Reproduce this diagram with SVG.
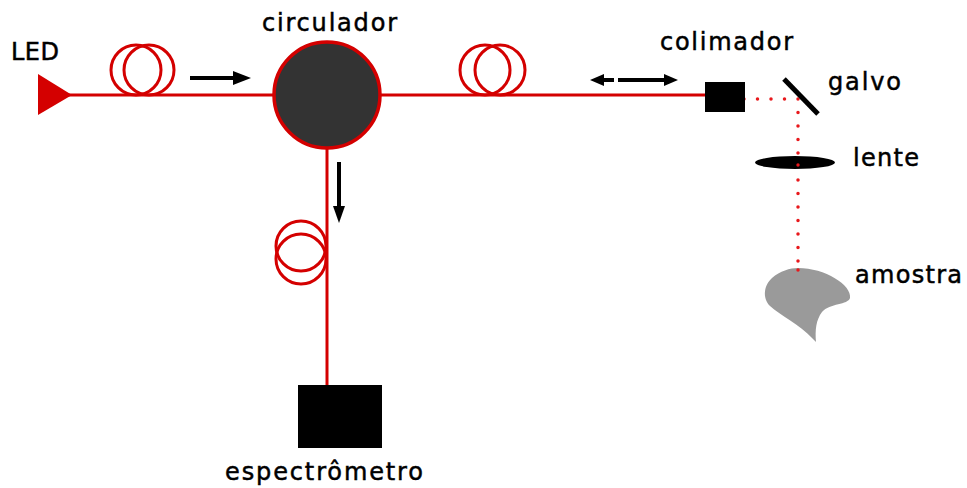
<svg xmlns="http://www.w3.org/2000/svg" width="967" height="488" viewBox="0 0 967 488">
  <style>
    .fiber { stroke: #d40000; stroke-width: 3; fill: none; }
    .coil { stroke: #d40000; stroke-width: 3; fill: none; }
    .beam { stroke: #e8181c; stroke-width: 3.5; stroke-linecap: round; stroke-dasharray: 0 13.5; fill: none; }
    .shaft { stroke: #000; stroke-width: 4; fill: none; }
    .head { fill: #000; }
    .lbl { font-family: "DejaVu Sans", Verdana, sans-serif; font-size: 24px; fill: #000; stroke: #000; stroke-width: 0.5; }
  </style>
  <rect width="967" height="488" fill="#fff"/>

  <g id="connectors">
    <!-- fibers -->
    <line class="fiber" x1="68" y1="95" x2="275" y2="95"/>
    <line class="fiber" x1="380" y1="95" x2="706" y2="95"/>
    <line class="fiber" x1="327" y1="148" x2="327" y2="386"/>
    <!-- fiber coils -->
    <circle class="coil" cx="136" cy="70" r="25"/>
    <circle class="coil" cx="149" cy="70" r="25"/>
    <circle class="coil" cx="485" cy="70" r="25"/>
    <circle class="coil" cx="500" cy="70" r="25"/>
    <circle class="coil" cx="301" cy="246" r="25"/>
    <circle class="coil" cx="301" cy="259" r="25"/>
    <!-- free-space beam -->
    <line class="beam" x1="744" y1="99" x2="798" y2="99"/>
    <line class="beam" x1="798" y1="99" x2="798" y2="270"/>
    <!-- direction arrows -->
    <line class="shaft" x1="190" y1="78" x2="236" y2="78"/>
    <polygon class="head" points="233,71 251,78 233,85"/>
    <line class="shaft" x1="602" y1="80" x2="614" y2="80"/>
    <polygon class="head" points="604,74 590,80 604,86"/>
    <line class="shaft" x1="618" y1="80" x2="666" y2="80"/>
    <polygon class="head" points="664,74 678,80 664,86"/>
    <line class="shaft" x1="339" y1="162" x2="339" y2="209"/>
    <polygon class="head" points="333,206 345,206 339,223"/>
  </g>

  <g id="led">
    <polygon points="38,74 72,95 38,115" fill="#d40000"/>
    <text class="lbl" x="11" y="60" textLength="48" lengthAdjust="spacing">LED</text>
  </g>

  <g id="circulador">
    <circle cx="327" cy="95" r="53" fill="#333" stroke="#d40000" stroke-width="3.5"/>
    <text class="lbl" x="262" y="31" textLength="135" lengthAdjust="spacing">circulador</text>
  </g>

  <g id="colimador">
    <rect x="705" y="82" width="40" height="30" fill="#000"/>
    <text class="lbl" x="660" y="50" textLength="133" lengthAdjust="spacing">colimador</text>
  </g>

  <g id="galvo">
    <line x1="784" y1="79" x2="818" y2="114" stroke="#000" stroke-width="5"/>
    <text class="lbl" x="828" y="90" textLength="73" lengthAdjust="spacing">galvo</text>
  </g>

  <g id="lente">
    <ellipse cx="795" cy="162.5" rx="40" ry="6.5" fill="#000"/>
    <circle cx="798" cy="165" r="1.7" fill="#e8181c"/>
    <text class="lbl" x="853" y="166" textLength="66" lengthAdjust="spacing">lente</text>
  </g>

  <g id="amostra">
    <path d="M 798 268 C 825 268, 852 285, 850 298 C 848 305, 830 303, 822 312 C 816 320, 815 330, 816 342 L 812 338 C 800 325, 780 315, 770 306 C 762 298, 764 285, 772 278 C 780 271, 790 268, 798 268 Z" fill="#9a9a9a"/>
    <circle cx="798" cy="270" r="1.7" fill="#e8181c"/>
    <text class="lbl" x="855" y="283" textLength="107" lengthAdjust="spacing">amostra</text>
  </g>

  <g id="espectrometro">
    <rect x="298" y="385" width="84" height="63" fill="#000"/>
    <text class="lbl" x="225" y="480" textLength="198" lengthAdjust="spacing">espectrômetro</text>
  </g>
</svg>
